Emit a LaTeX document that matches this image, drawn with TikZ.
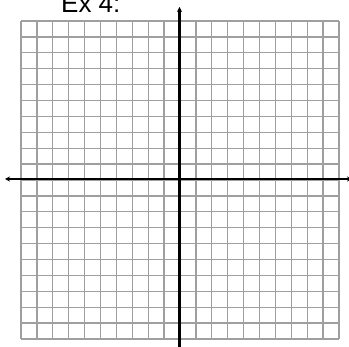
\documentclass[tikz,border=0pt]{standalone}
\usepackage{fontspec}
\setmainfont{Liberation Sans}
\usetikzlibrary{arrows.meta}

\tikzset{
  gridline/.style={draw=gray!75, line width=1.3pt},
  axisline/.style={draw=black, line width=2.2pt, {Stealth[length=5pt,width=5pt]}-{Stealth[length=5pt,width=5pt]}},
}

\begin{document}
\begin{tikzpicture}[x=1pt, y=-1pt]
    \useasboundingbox (0, 0) rectangle (349, 347);
    \node[anchor=base west, inner sep=0pt, font=\fontsize{26}{26}\selectfont] (title) at (61, 12.5) {Ex 4:};
    % grid
    \foreach \i in {0,...,20} {
      \draw[gridline] ({21 + \i*15.9}, 21) -- ({21 + \i*15.9}, 339);
      \draw[gridline] (21, {21 + \i*15.9}) -- (339, {21 + \i*15.9});
    }
    % axes
    \coordinate (xleft) at (5, 179);
    \coordinate (xright) at (352, 179);
    \coordinate (ytop) at (179.5, 7);
    \coordinate (ybottom) at (179.5, 352);
    \draw[axisline] (xleft) -- (xright);
    \draw[axisline] (ybottom) -- (ytop);
  \end{tikzpicture}
\end{document}
